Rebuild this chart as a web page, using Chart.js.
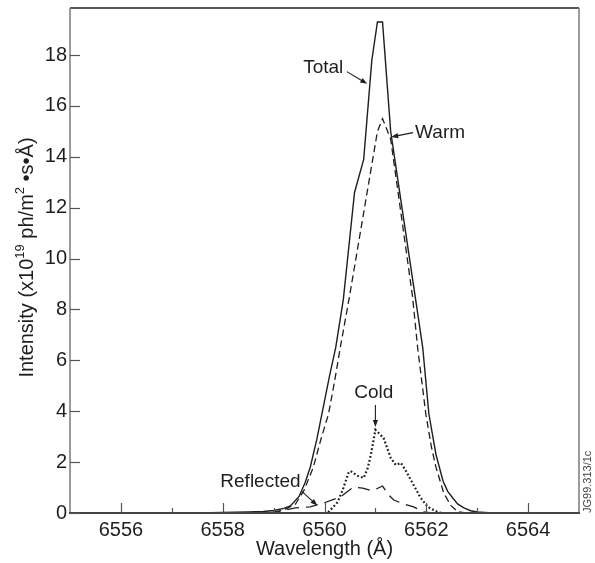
<!DOCTYPE html>
<html>
<head>
<meta charset="utf-8">
<script src="https://cdn.jsdelivr.net/npm/chart.js@4/dist/chart.umd.min.js"></script>
<style>
html,body{margin:0;padding:0;background:#fff;}
#wrap{width:595px;height:563px;}
</style>
</head>
<body>
<div id="wrap"><canvas id="c" width="595" height="563"></canvas></div>
<script>
// ---- data ----
const totalWl  = [6555, 6557.5, 6558, 6558.5, 6558.8, 6559.0, 6559.2, 6559.33, 6559.5, 6559.62, 6559.72, 6559.85, 6559.98, 6560.1, 6560.22, 6560.37, 6560.59, 6560.77, 6560.93, 6561.04, 6561.14, 6561.3, 6561.5, 6561.79, 6561.93, 6562.05, 6562.19, 6562.33, 6562.42, 6562.52, 6562.62, 6562.74, 6562.87, 6563.0, 6563.3, 6565];
const totalVal = [0, 0, 0.02, 0.04, 0.06, 0.1, 0.18, 0.28, 0.65, 1.2, 1.8, 2.9, 4.2, 5.4, 6.5, 8.4, 12.6, 13.9, 17.8, 19.3, 19.3, 15.0, 12.3, 8.4, 6.5, 3.9, 2.3, 1.25, 0.85, 0.59, 0.35, 0.2, 0.09, 0.04, 0, 0];

const warmWl  = [6558.8, 6559.0, 6559.2, 6559.43, 6559.6, 6559.78, 6559.93, 6560.08, 6560.2, 6560.31, 6560.49, 6561.04, 6561.14, 6561.3, 6561.73, 6561.83, 6561.99, 6562.1, 6562.19, 6562.34, 6562.48, 6562.62, 6562.8];
const warmVal = [0, 0.03, 0.12, 0.35, 0.9, 1.8, 2.9, 3.9, 5.2, 6.5, 8.5, 15.0, 15.5, 14.7, 8.5, 6.5, 3.9, 2.6, 1.8, 0.8, 0.3, 0.05, 0];

const coldWl  = [6560.0, 6560.06, 6560.26, 6560.37, 6560.47, 6560.51, 6560.65, 6560.77, 6560.85, 6560.91, 6561.0, 6561.16, 6561.3, 6561.4, 6561.5, 6561.59, 6561.75, 6561.89, 6562.03, 6562.22, 6562.3];
const coldVal = [0, 0, 0.43, 0.98, 1.57, 1.65, 1.46, 1.38, 1.77, 2.28, 3.27, 2.95, 2.17, 1.89, 1.97, 1.69, 1.1, 0.59, 0.24, 0.04, 0];

const reflWl  = [6558.9, 6559.2, 6559.43, 6559.72, 6559.98, 6560.31, 6560.57, 6560.75, 6560.94, 6561.14, 6561.26, 6561.36, 6561.56, 6561.75, 6561.95, 6562.1];
const reflVal = [0, 0.1, 0.2, 0.24, 0.39, 0.63, 1.02, 0.98, 0.87, 1.06, 0.71, 0.51, 0.35, 0.24, 0.04, 0];

const xTickValues = [6556, 6557, 6558, 6559, 6560, 6561, 6562, 6563, 6564];
const yTickValues = [0, 2, 4, 6, 8, 10, 12, 14, 16, 18];

const xTitle = 'Wavelength (Å)';
const yTitleParts = [['Intensity (x10', false], ['19', true], [' ph/m', false], ['2', true], [' •s•Å)', false]];
const stamp = 'JG99.313/1c';

// annotation labels (in data units)
const notes = [
  {text: 'Total',     tx: 6560.37, ty: 17.5, align: 'right',  ax0: 6560.44, ay0: 17.35, ax1: 6560.84, ay1: 16.87},
  {text: 'Warm',      tx: 6561.78, ty: 14.95, align: 'left',  ax0: 6561.74, ay0: 14.95, ax1: 6561.31, ay1: 14.78},
  {text: 'Cold',      tx: 6560.97, ty: 4.72, align: 'center', ax0: 6561.0, ay0: 4.25, ax1: 6561.0, ay1: 3.38},
  {text: 'Reflected', tx: 6559.53, ty: 1.23, align: 'right',  ax0: 6559.56, ay0: 0.84, ax1: 6559.86, ay1: 0.29}
];

const pts = (xs, ys) => xs.map((x, i) => ({x, y: ys[i]}));
const FONT = '"Liberation Sans", Arial, Helvetica, sans-serif';
const INK = '#1e1e1e';

function arrow(ctx, x0, y0, x1, y1) {
  const ang = Math.atan2(y1 - y0, x1 - x0);
  const L = 7, W = 2.6;
  ctx.beginPath();
  ctx.moveTo(x0, y0);
  ctx.lineTo(x1 - Math.cos(ang) * L * 0.8, y1 - Math.sin(ang) * L * 0.8);
  ctx.stroke();
  ctx.beginPath();
  ctx.moveTo(x1, y1);
  ctx.lineTo(x1 - Math.cos(ang) * L + Math.sin(ang) * W, y1 - Math.sin(ang) * L - Math.cos(ang) * W);
  ctx.lineTo(x1 - Math.cos(ang) * L - Math.sin(ang) * W, y1 - Math.sin(ang) * L + Math.cos(ang) * W);
  ctx.closePath();
  ctx.fill();
}

const decor = {
  id: 'decor',
  afterDraw(chart) {
    const {ctx, chartArea: a, scales: {x, y}} = chart;
    ctx.save();
    // frame
    ctx.lineWidth = 1.5;
    ctx.strokeStyle = '#222';
    ctx.beginPath(); ctx.moveTo(a.left, a.top); ctx.lineTo(a.right, a.top); ctx.stroke();
    ctx.strokeStyle = '#7a7a7a';
    ctx.beginPath(); ctx.moveTo(a.left, a.top); ctx.lineTo(a.left, a.bottom); ctx.stroke();
    ctx.beginPath(); ctx.moveTo(a.right, a.top); ctx.lineTo(a.right, a.bottom); ctx.stroke();
    ctx.strokeStyle = '#444';
    ctx.lineWidth = 2;
    ctx.beginPath(); ctx.moveTo(a.left - 1, a.bottom); ctx.lineTo(a.right + 1, a.bottom); ctx.stroke();
    // inside ticks
    ctx.lineWidth = 1.2;
    ctx.strokeStyle = '#555';
    yTickValues.forEach(v => {
      const py = Math.round(y.getPixelForValue(v)) + 0.5;
      ctx.beginPath(); ctx.moveTo(a.left, py); ctx.lineTo(a.left + 10, py); ctx.stroke();
    });
    xTickValues.forEach(v => {
      const px = Math.round(x.getPixelForValue(v)) + 0.5;
      const len = v % 2 === 0 ? 10 : 5;
      ctx.beginPath(); ctx.moveTo(px, a.bottom); ctx.lineTo(px, a.bottom - len); ctx.stroke();
    });
    // axis titles
    ctx.fillStyle = INK;
    ctx.font = '20px ' + FONT;
    ctx.textAlign = 'center';
    ctx.textBaseline = 'middle';
    ctx.fillText(xTitle, (a.left + a.right) / 2, 549);
    // y title with superscripts
    ctx.save();
    ctx.translate(27, (a.top + a.bottom) / 2 - 3);
    ctx.rotate(-Math.PI / 2);
    const big = '20px ' + FONT, small = '13px ' + FONT;
    let total = 0;
    yTitleParts.forEach(([t, sup]) => { ctx.font = sup ? small : big; total += ctx.measureText(t).width; });
    let cx = -total / 2;
    ctx.textAlign = 'left';
    yTitleParts.forEach(([t, sup]) => {
      ctx.font = sup ? small : big;
      ctx.fillText(t, cx, sup ? -7 : 0);
      cx += ctx.measureText(t).width;
    });
    ctx.restore();
    // annotations
    ctx.font = '19px ' + FONT;
    ctx.lineWidth = 1.1;
    ctx.strokeStyle = INK;
    notes.forEach(n => {
      ctx.textAlign = n.align;
      ctx.fillText(n.text, x.getPixelForValue(n.tx), y.getPixelForValue(n.ty));
      arrow(ctx, x.getPixelForValue(n.ax0), y.getPixelForValue(n.ay0), x.getPixelForValue(n.ax1), y.getPixelForValue(n.ay1));
    });
    // stamp
    ctx.save();
    ctx.translate(588, a.bottom);
    ctx.rotate(-Math.PI / 2);
    ctx.font = '11px ' + FONT;
    ctx.fillStyle = '#444';
    ctx.textAlign = 'left';
    ctx.fillText(stamp, 0, 0);
    ctx.restore();
    ctx.restore();
  }
};

new Chart(document.getElementById('c'), {
  type: 'line',
  data: {
    datasets: [
      {label: 'Total', data: pts(totalWl, totalVal), borderColor: INK, borderWidth: 1.4, pointRadius: 0, tension: 0},
      {label: 'Warm', data: pts(warmWl, warmVal), borderColor: INK, borderWidth: 1.3, borderDash: [7, 4], pointRadius: 0, tension: 0},
      {label: 'Cold', data: pts(coldWl, coldVal), borderColor: INK, borderWidth: 2.2, borderDash: [1.8, 2.2], pointRadius: 0, tension: 0},
      {label: 'Reflected', data: pts(reflWl, reflVal), borderColor: INK, borderWidth: 1.3, borderDash: [12, 7], pointRadius: 0, tension: 0}
    ]
  },
  options: {
    responsive: false,
    animation: false,
    devicePixelRatio: 1,
    layout: {padding: {top: 8, right: 16, left: 0, bottom: 0}},
    plugins: {legend: {display: false}, tooltip: {enabled: false}},
    scales: {
      x: {
        type: 'linear', min: 6555, max: 6565,
        grid: {display: false, drawTicks: false},
        border: {display: false},
        afterBuildTicks: s => { s.ticks = xTickValues.map(v => ({value: v})); },
        afterFit: s => { s.height = 50; s.paddingLeft = 0; s.paddingRight = 0; },
        ticks: {
          autoSkip: false, maxRotation: 0, padding: 5, color: INK,
          font: {family: FONT, size: 20},
          callback: v => (v % 2 === 0 ? String(v) : '')
        }
      },
      y: {
        type: 'linear', min: 0, max: 19.85,
        grid: {display: false, drawTicks: false},
        border: {display: false},
        afterBuildTicks: s => { s.ticks = yTickValues.map(v => ({value: v})); },
        afterFit: s => { s.width = 70; s.paddingTop = 0; s.paddingBottom = 0; },
        ticks: {
          padding: 3, color: INK,
          font: {family: FONT, size: 20},
          callback: v => String(v)
        }
      }
    }
  },
  plugins: [decor]
});
</script>
</body>
</html>
